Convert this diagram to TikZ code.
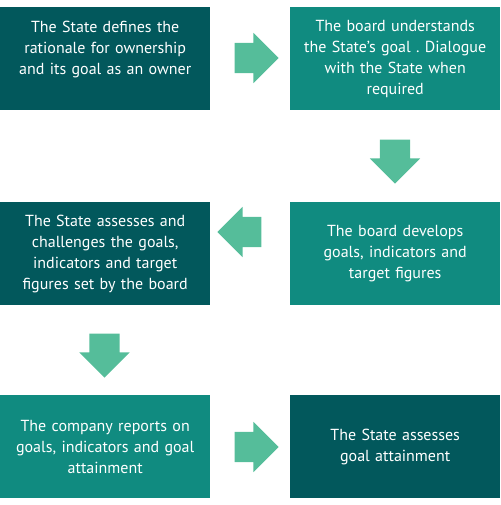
\documentclass[tikz,border=0pt]{standalone}
\usepackage{fontspec}
\setmainfont{PT Sans}
\usetikzlibrary{shapes.arrows}
\definecolor{darkteal}{HTML}{02585C}
\definecolor{midteal}{HTML}{108B80}
\definecolor{arrowgreen}{HTML}{55BD9A}
\frenchspacing
\begin{document}
\begin{tikzpicture}[x=1pt,y=-1pt,
  box/.style={rectangle, anchor=north west, minimum width=210pt, minimum height=103pt,
    text width=200pt, align=center, text=white, inner sep=0pt,
    font=\fontsize{16}{21}\selectfont},
  blockarrow/.style={single arrow, fill=arrowgreen, minimum height=44pt,
    inner xsep=0pt, inner ysep=15pt, single arrow head extend=10pt}]
  \useasboundingbox (0,0) rectangle (500,505);
  % boxes
  \node[box, fill=darkteal] (define) at (0,7) {The State defines the\\ rationale for ownership\\ and its goal as an owner\\ ~};
  \node[box, fill=midteal] (understand) at (290,7) {The board understands\\ the State’s goal . Dialogue\\ with the State when\\ required};
  \node[box, fill=darkteal] (assess) at (0,202) {The State assesses and\\ challenges the goals,\\ indicators and target\\ figures set by the board};
  \node[box, fill=midteal] (develop) at (290,202) {The board develops\\ goals, indicators and\\ target figures};
  \node[box, fill=midteal] (report) at (0,395) {The company reports on\\ goals, indicators and goal\\ attainment};
  \node[box, fill=darkteal] (attain) at (290,395) {The State assesses\\ goal attainment};
  % arrows
  \node[blockarrow] (arr1) at (249,58) {};
  \node[blockarrow, rotate=-90] (arr2) at (395,154) {};
  \node[blockarrow, rotate=180] (arr3) at (247,232) {};
  \node[blockarrow, rotate=-90] (arr4) at (104.5,348) {};
  \node[blockarrow] (arr5) at (249,447) {};
\end{tikzpicture}
\end{document}
